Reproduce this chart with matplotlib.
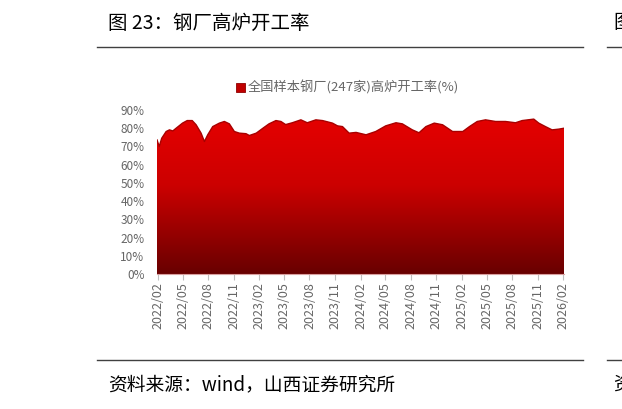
import numpy as np
import pandas as pd
import matplotlib
matplotlib.use("Agg")
import matplotlib.pyplot as plt
import matplotlib.dates as mdates
from matplotlib.colors import LinearSegmentedColormap

plt.rcParams['font.family'] = ['Noto Sans CJK SC', 'DejaVu Sans']

#### 数据：全国样本钢厂(247家)高炉开工率(%)
dates = pd.to_datetime([
    "2022-01-28", "2022-02-05", "2022-02-14", "2022-03-02", "2022-03-14",
    "2022-03-26", "2022-04-07", "2022-04-30", "2022-05-17", "2022-06-04",
    "2022-06-18", "2022-07-06", "2022-07-18", "2022-07-30", "2022-08-17",
    "2022-09-10", "2022-09-28", "2022-10-16", "2022-11-03", "2022-11-21",
    "2022-12-15", "2022-12-27", "2023-01-21", "2023-02-14", "2023-03-08",
    "2023-04-02", "2023-04-20", "2023-05-07", "2023-05-31", "2023-07-01",
    "2023-07-24", "2023-08-24", "2023-09-17", "2023-10-23", "2023-11-10",
    "2023-11-28", "2023-12-22", "2024-01-16", "2024-02-21", "2024-03-27",
    "2024-05-02", "2024-06-08", "2024-07-01", "2024-08-06", "2024-08-30",
    "2024-09-24", "2024-10-24", "2024-11-23", "2024-12-29", "2025-02-04",
    "2025-02-28", "2025-03-28", "2025-04-27", "2025-06-02", "2025-07-08",
    "2025-08-13", "2025-09-06", "2025-10-18", "2025-11-05", "2025-11-29",
    "2025-12-23", "2026-01-16", "2026-02-04",
])
rate = np.array([
    73.6, 70.0, 74.5, 78.2, 79.1,
    78.5, 80.0, 82.8, 84.2, 84.2,
    81.9, 77.3, 72.7, 76.4, 80.9,
    82.8, 83.7, 82.4, 78.2, 77.3,
    77.0, 76.0, 77.3, 80.0, 82.4,
    84.2, 83.7, 82.0, 83.0, 84.6,
    83.0, 84.6, 84.2, 82.8, 81.3,
    80.9, 77.3, 77.7, 76.4, 78.2,
    81.3, 83.0, 82.4, 79.1, 77.5,
    80.9, 82.8, 81.9, 78.2, 78.2,
    80.9, 83.7, 84.6, 83.7, 83.7,
    83.0, 84.2, 85.0, 82.8, 80.9,
    79.1, 79.5, 80.0,
])
tick_dates = pd.date_range("2022-02-01", "2026-02-01", freq="3MS")
yticks = np.arange(0, 91, 10)

legend_label = "全国样本钢厂(247家)高炉开工率(%)"
title = "图 23：钢厂高炉开工率"
source = "资料来源：wind，山西证券研究所"

### 图形 ###
fig = plt.figure(figsize=(6.22, 4.09), dpi=100)
ax = fig.add_axes([157/622, 1-274/409, (564-157)/622, (274-110)/409])

x = mdates.date2num(dates)
poly = ax.fill_between(x, 0, rate, facecolor="none", edgecolor="none")

# 渐变填充（上亮红 -> 下暗红）
cmap = LinearSegmentedColormap.from_list("redgrad", [(0.0, "#680000"), (0.55, "#cc0000"), (1.0, "#e60000")])
grad = np.linspace(0, 1, 256).reshape(-1, 1)
img = ax.imshow(grad, cmap=cmap, aspect="auto", origin="lower",
                extent=[x[0], x[-1], 0, 88], zorder=1)
img.set_clip_path(poly.get_paths()[0], transform=ax.transData)
ax.plot(x, rate, color="#a80000", lw=1.0, zorder=2)

ax.set_xlim(x[0], x[-1])
ax.set_ylim(0, 90)
ax.set_yticks(yticks)
ax.set_yticklabels([f"{v}%" for v in yticks])
ax.set_xticks(mdates.date2num(tick_dates))
ax.set_xticklabels([d.strftime("%Y/%m") for d in tick_dates], rotation=90)

for s in ["top", "right", "left"]:
    ax.spines[s].set_visible(False)
ax.spines["bottom"].set_color("#d9a0a0")
ax.tick_params(axis="y", length=0, labelsize=8.5, labelcolor="#666666", pad=9)
ax.tick_params(axis="x", length=4, color="#bfbfbf", labelsize=9, labelcolor="#666666", pad=2)

# 图例
fig.patches.append(plt.Rectangle((236/622, 1-92/409), 9/622, 9/409, transform=fig.transFigure,
                                 facecolor="#c00000", edgecolor="#900000", lw=0.6))
fig.text(248/622, 1-87/409, legend_label, fontsize=9.5, color="#666666", va="center", ha="left")

# 标题 / 来源 / 分隔线（右侧为下一张图的边缘）
fig.text(108/622, 1-23/409, title, fontsize=14, color="black", va="center", ha="left")
fig.text(108/622, 1-385/409, source, fontsize=13.5, color="black", va="center", ha="left")
fig.text(613/622, 1-23/409, "图", fontsize=14, color="black", va="center", ha="left")
fig.text(613/622, 1-385/409, "资", fontsize=13.5, color="black", va="center", ha="left")
for yy in [47, 360]:
    fig.add_artist(plt.Line2D([97/622, 583/622], [1-yy/409]*2, color="#404040", lw=1.0))
    fig.add_artist(plt.Line2D([607/622, 1.0], [1-yy/409]*2, color="#404040", lw=1.0))

plt.savefig("out.png", dpi=100)
